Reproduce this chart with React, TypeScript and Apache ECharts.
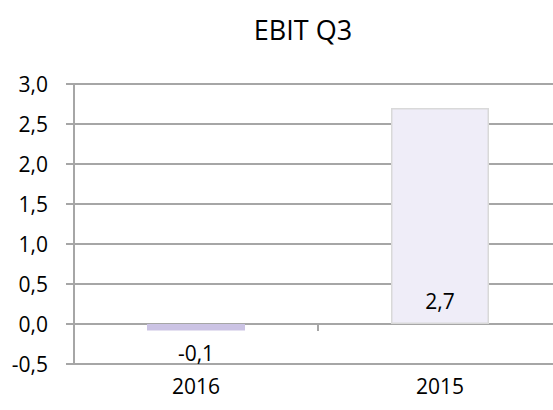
import React, { useEffect, useRef } from "react";
import * as echarts from "echarts";

const title = "EBIT Q3";
const categories = ["2016", "2015"];
const values = [-0.08, 2.7];
const barColors = ["#cbc3e4", "#efedf8"];
const yTicks = { min: -0.5, max: 3.0, interval: 0.5 };

const FONT = "'Open Sans', 'Noto Sans', sans-serif";
const GRID = "#a6a6a6";

const fmt = (v: number) => v.toFixed(1).replace(".", ",");

export default function App() {
  const ref = useRef<HTMLDivElement>(null);
  useEffect(() => {
    if (!ref.current) return;
    const chart = echarts.init(ref.current, undefined, { renderer: "svg" });
    chart.setOption({
      animation: false,
      backgroundColor: "#ffffff",
      title: {
        text: title,
        left: 298,
        top: 11,
        textAlign: "center",
        textStyle: { fontFamily: FONT, fontSize: 27, fontWeight: "normal", color: "#000" },
      },
      grid: { left: 74, top: 84, width: 488, height: 280, outerBoundsMode: "none", containLabel: false },
      xAxis: [
        {
          type: "category",
          data: categories,
          axisLine: { onZero: true, lineStyle: { color: GRID, width: 2 } },
          axisTick: { show: true, length: 7, lineStyle: { color: GRID, width: 2 } },
          axisLabel: { show: false },
          splitLine: { show: false },
        },
        {
          type: "category",
          data: categories,
          position: "bottom",
          axisLine: { show: false, onZero: false },
          axisTick: { show: false },
          axisLabel: { show: true, margin: 11, fontFamily: FONT, fontSize: 21, color: "#000" },
        },
      ],
      yAxis: {
        type: "value",
        min: yTicks.min,
        max: yTicks.max,
        interval: yTicks.interval,
        axisLine: { show: true, lineStyle: { color: GRID, width: 2 } },
        axisTick: { show: true, length: 8, lineStyle: { color: GRID, width: 2 } },
        splitLine: { show: true, lineStyle: { color: GRID, width: 2 } },
        axisLabel: {
          margin: 26,
          fontFamily: FONT,
          fontSize: 21,
          color: "#000",
          formatter: (v: number) => fmt(v),
        },
      },
      series: [
        {
          type: "bar",
          xAxisIndex: 0,
          barWidth: 98,
          data: values.map((v, i) => ({
            value: v,
            itemStyle: {
              color: barColors[i],
              borderColor: i === 1 ? "#d9d9d9" : barColors[i],
              borderWidth: i === 1 ? 1.5 : 0,
            },
            label: {
              show: true,
              position: v < 0 ? "bottom" : "insideBottom",
              distance: v < 0 ? 12 : 13,
              fontFamily: FONT,
              fontSize: 21,
              color: "#000",
              formatter: () => fmt(v),
            },
          })),
        },
      ],
    });
    return () => chart.dispose();
  }, []);
  return (
    <div
      ref={ref}
      style={{ position: "fixed", left: 0, top: 0, width: 553, height: 410 }}
    />
  );
}
